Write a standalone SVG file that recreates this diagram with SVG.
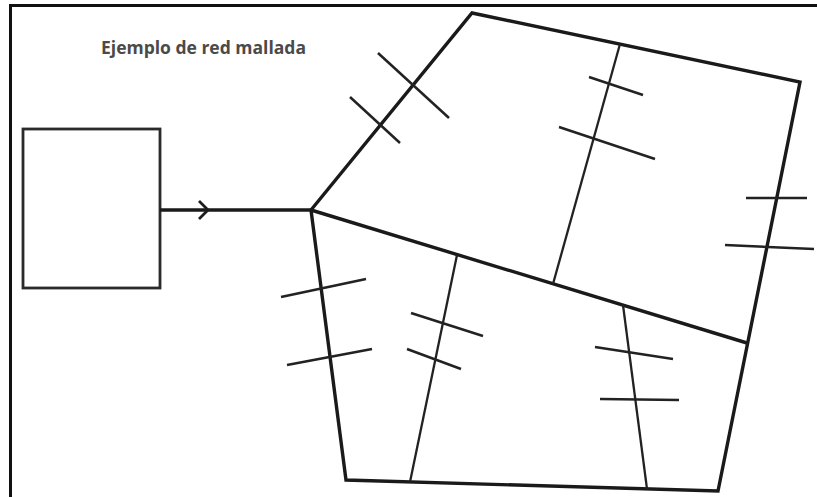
<svg xmlns="http://www.w3.org/2000/svg" width="817" height="497" viewBox="0 0 817 497">
  <style>
    .frame { fill: none; stroke: #111; stroke-width: 3; }
    .edge { fill: none; stroke: #1a1a1a; stroke-width: 3.4; stroke-linejoin: miter; stroke-linecap: butt; }
    .thin { fill: none; stroke: #222; stroke-width: 2.3; stroke-linecap: butt; }
    .tick { fill: none; stroke: #222; stroke-width: 2.5; stroke-linecap: butt; }
    .title { font-family: "Open Sans", "Liberation Sans", sans-serif; font-weight: bold; font-size: 18px; fill: #4a4a4a; }
  </style>
  <rect width="817" height="497" fill="#ffffff"/>
  <polyline class="frame" points="10.5,497 10.5,5.5 817,5.5"/>
  <text class="title" x="101" y="54" textLength="205" lengthAdjust="spacingAndGlyphs">Ejemplo de red mallada</text>

  <g id="source">
    <rect x="23" y="129" width="137" height="159" fill="none" stroke="#2a2a2a" stroke-width="2.8"/>
  </g>

  <g id="connectors">
    <line class="edge" x1="160" y1="210" x2="311" y2="210"/>
    <polyline fill="none" stroke="#1e1e1e" stroke-width="2.8" points="199,201 208,210 199,219"/>
  </g>

  <g id="mesh">
    <polygon class="edge" points="311,210 472,13 800,82 718,491 346,480"/>
    <line class="edge" x1="311" y1="210" x2="747" y2="343"/>
    <line class="thin" x1="620" y1="44" x2="553" y2="284"/>
    <line class="thin" x1="457" y1="255" x2="410" y2="482"/>
    <line class="thin" x1="623" y1="305" x2="647" y2="489"/>
  </g>

  <g id="ticks">
    <line class="tick" x1="378" y1="53" x2="449" y2="118"/>
    <line class="tick" x1="350" y1="97" x2="400" y2="143"/>
    <line class="tick" x1="589" y1="77" x2="643" y2="95"/>
    <line class="tick" x1="559" y1="127" x2="655" y2="159"/>
    <line class="tick" x1="746" y1="198" x2="807" y2="198"/>
    <line class="tick" x1="725" y1="245" x2="814" y2="249"/>
    <line class="tick" x1="281" y1="297" x2="366" y2="279"/>
    <line class="tick" x1="287" y1="365" x2="372" y2="349"/>
    <line class="tick" x1="411" y1="313" x2="483" y2="336"/>
    <line class="tick" x1="407" y1="349" x2="461" y2="369"/>
    <line class="tick" x1="595" y1="347" x2="673" y2="359"/>
    <line class="tick" x1="600" y1="399" x2="679" y2="400"/>
  </g>
</svg>
